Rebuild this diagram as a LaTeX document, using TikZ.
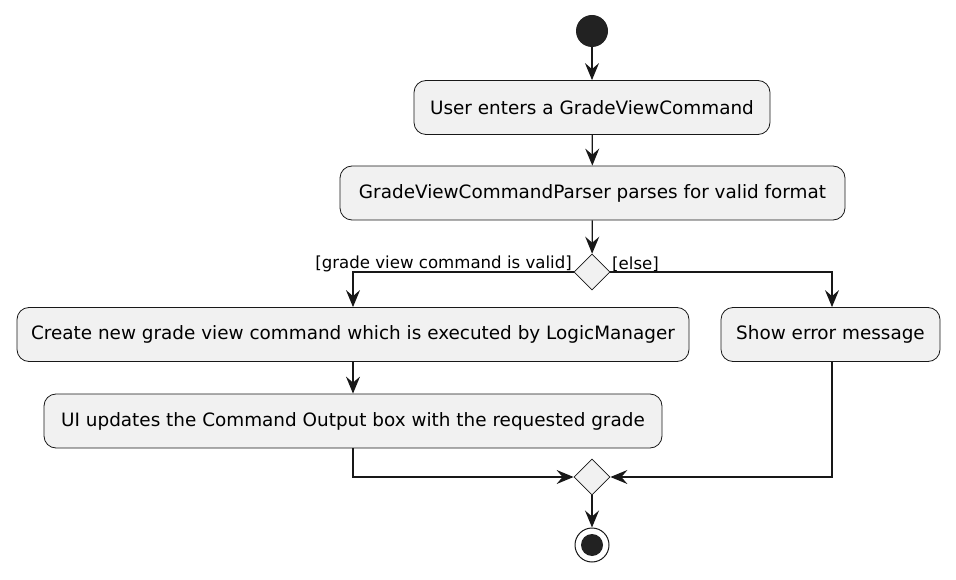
\documentclass[tikz,border=0pt]{standalone}
\usepackage{fontspec}
\setmainfont{DejaVu Sans}
\usetikzlibrary{arrows.meta,shapes.geometric}
\definecolor{boxfill}{HTML}{F1F1F1}
\definecolor{ink}{HTML}{181818}
\definecolor{dot}{HTML}{222222}
\tikzset{
  act/.style={draw=ink, fill=boxfill, rounded corners=12pt, line width=0.8pt,
    minimum height=54pt, inner sep=0pt, font=\fontsize{18.4}{21}\selectfont},
  dia/.style={draw=ink, fill=boxfill, diamond, line width=0.8pt, minimum width=36pt,
    minimum height=36pt, inner sep=0pt},
  flow/.style={draw=ink, line width=1.3pt, -{Stealth[length=17pt,width=14pt,inset=6pt]}},
  guard/.style={font=\fontsize{16.6}{19}\selectfont, inner sep=1pt}
}
\begin{document}
\begin{tikzpicture}[x=1pt,y=-1pt]
\useasboundingbox (0,0) rectangle (956,580);
\node[circle, fill=dot, minimum size=32pt, inner sep=0pt] (start) at (592,31) {};
\node[act, minimum width=356pt] (a1) at (592,107.5) {User enters a GradeViewCommand};
\node[act, minimum width=505pt] (a2) at (592.5,193) {GradeViewCommandParser parses for valid format};
\node[dia] (d1) at (592,272) {};
\node[act, minimum width=672pt] (a3) at (353,334.5) {Create new grade view command which is executed by LogicManager};
\node[act, minimum width=219pt] (a4) at (830.5,334.5) {Show error message};
\node[act, minimum width=618pt] (a5) at (353,421) {UI updates the Command Output box with the requested grade};
\node[dia] (d2) at (592,477) {};
\node[circle, draw=ink, line width=1pt, fill=white, minimum size=34pt, inner sep=0pt] (stop) at (592,545) {};
\node[circle, fill=dot, minimum size=22pt, inner sep=0pt] at (stop) {};
\node[guard, anchor=south east] (g1) at (573,273) {[grade view command is valid]};
\node[guard, anchor=south west] (g2) at (611,273) {[else]};
\draw[flow] (start) -- (a1);
\draw[flow] (a1) -- (a2);
\draw[flow] (a2) -- (d1);
\draw[flow] (d1.west) -| (a3.north);
\draw[flow] (d1.east) -| ([xshift=1.5pt]a4.north);
\draw[flow] (a3) -- (a5);
\draw[flow] (a5.south) |- (d2.west);
\draw[flow] ([xshift=1.5pt]a4.south) |- (d2.east);
\draw[flow] (d2) -- (stop);
\end{tikzpicture}
\end{document}
